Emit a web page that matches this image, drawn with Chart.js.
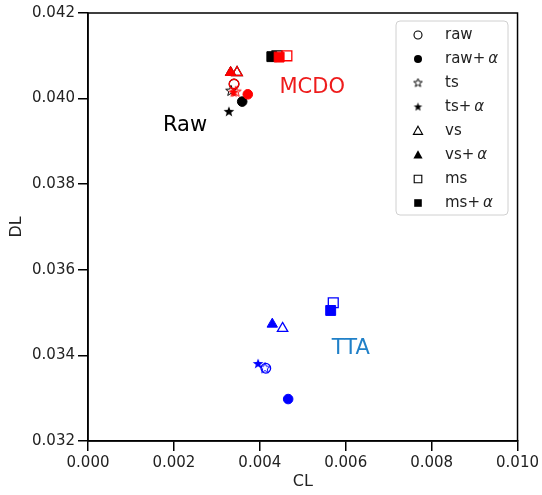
<!DOCTYPE html>
<html>
<head>
<meta charset="utf-8">
<script src="https://cdn.jsdelivr.net/npm/chart.js@4.4.1/dist/chart.umd.min.js"></script>
<style>
  html, body { margin: 0; padding: 0; background: #fff; }
  #wrap { width: 542px; height: 495px; }
</style>
</head>
<body>
<div id="wrap"><canvas id="chart" width="542" height="495"></canvas></div>
<script>
// marker kinds (one per legend row)
const markerNames = ['raw', 'raw+α', 'ts', 'ts+α', 'vs', 'vs+α', 'ms', 'ms+α'];

// method groups
const methodNames = ['Raw', 'MCDO', 'TTA'];

// CL / DL per marker kind
const rawCL  = [0.00340, 0.00359, 0.00333, 0.00328, 0.00347, 0.00332, 0.00440, 0.00428];
const rawDL  = [0.04034, 0.03993, 0.04018, 0.03969, 0.04061, 0.04061, 0.04100, 0.04098];
const mcdoCL = [0.00340, 0.00372, 0.00344, 0.00339, 0.00347, 0.00332, 0.00463, 0.00445];
const mcdoDL = [0.04034, 0.04010, 0.04016, 0.04014, 0.04061, 0.04061, 0.04100, 0.04097];
const ttaCL  = [0.00414, 0.00466, 0.00412, 0.00396, 0.00453, 0.00429, 0.00571, 0.00565];
const ttaDL  = [0.03370, 0.03298, 0.03370, 0.03380, 0.03463, 0.03473, 0.03523, 0.03505];

// where the group names sit (data units)
const labelCL = [0.00226, 0.00522, 0.00612];
const labelDL = [0.03937, 0.04025, 0.03417];

// axis ticks
const xTicks = [0.000, 0.002, 0.004, 0.006, 0.008, 0.010];
const yTicks = [0.032, 0.034, 0.036, 0.038, 0.040, 0.042];

const methodColors = ['#000000', '#ff0000', '#0000ff'];
const labelColors = ['#000000', '#ee1c1c', '#2080c8'];
const shapes = ['circle', 'circle', 'star', 'star', 'triangle', 'triangle', 'rect', 'rect'];
const filled = [false, true, false, true, false, true, false, true];
const radii = { circle: 4.8, triangle: 6, rect: 7 };

// 5-point star as a small canvas, chart.js 'star' is an asterisk
function makeStar(color, fill, outer) {
    const size = Math.ceil(outer * 2 + 4);
    const c = document.createElement('canvas');
    c.width = size; c.height = size;
    const g = c.getContext('2d');
    const cx = size / 2, cy = size / 2, inner = outer * 0.42;
    g.beginPath();
    for (let k = 0; k < 10; k++) {
        const r = k % 2 === 0 ? outer : inner;
        const a = -Math.PI / 2 + k * Math.PI / 5;
        const px = cx + r * Math.cos(a), py = cy + r * Math.sin(a);
        k === 0 ? g.moveTo(px, py) : g.lineTo(px, py);
    }
    g.closePath();
    if (fill) {
        g.fillStyle = color; g.fill();
    } else {
        g.strokeStyle = color; g.lineWidth = 1; g.stroke();
    }
    return c;
}

const allCL = [rawCL, mcdoCL, ttaCL];
const allDL = [rawDL, mcdoDL, ttaDL];

const datasets = [];
methodNames.forEach((m, mi) => {
    markerNames.forEach((name, ti) => {
        const color = methodColors[mi];
        const shape = shapes[ti];
        const ds = {
            label: m + ' ' + name,
            data: [{ x: allCL[mi][ti], y: allDL[mi][ti] }],
            borderColor: color,
            backgroundColor: filled[ti] ? color : 'rgba(0,0,0,0)',
            borderWidth: filled[ti] ? 1 : 1.3,
        };
        if (shape === 'star') {
            ds.pointStyle = makeStar(color, filled[ti], 5.6);
            ds.pointRadius = 5.6;
        } else {
            ds.pointStyle = shape;
            ds.pointRadius = radii[shape];
        }
        datasets.push(ds);
    });
});
// later series on top, like the original
datasets.forEach((d, i) => { d.order = datasets.length - i; });

const decorations = {
    id: 'decorations',
    afterDraw(chart) {
        const { ctx, chartArea: a, scales: { x, y } } = chart;
        ctx.save();

        // frame
        ctx.strokeStyle = '#000';
        ctx.lineWidth = 1.5;
        ctx.strokeRect(a.left, a.top, a.right - a.left, a.bottom - a.top);

        // group names
        ctx.font = '21px "DejaVu Sans"';
        ctx.textAlign = 'center';
        ctx.textBaseline = 'middle';
        methodNames.forEach((name, i) => {
            ctx.fillStyle = labelColors[i];
            ctx.fillText(name, x.getPixelForValue(labelCL[i]), y.getPixelForValue(labelDL[i]));
        });

        // axis titles
        ctx.fillStyle = '#222';
        ctx.font = '16px "DejaVu Sans"';
        ctx.fillText('CL', (a.left + a.right) / 2, 482);
        ctx.save();
        ctx.translate(17, (a.top + a.bottom) / 2);
        ctx.rotate(-Math.PI / 2);
        ctx.fillText('DL', 0, 0);
        ctx.restore();

        // legend box
        const bx = 396, by = 21, bw = 112, bh = 194, br = 4;
        ctx.beginPath();
        ctx.moveTo(bx + br, by);
        ctx.arcTo(bx + bw, by, bx + bw, by + bh, br);
        ctx.arcTo(bx + bw, by + bh, bx, by + bh, br);
        ctx.arcTo(bx, by + bh, bx, by, br);
        ctx.arcTo(bx, by, bx + bw, by, br);
        ctx.closePath();
        ctx.fillStyle = 'rgba(255,255,255,0.85)';
        ctx.fill();
        ctx.strokeStyle = '#d0d0d0';
        ctx.lineWidth = 1;
        ctx.stroke();

        markerNames.forEach((name, i) => {
            const my = 35 + i * 24;
            const mx = 418;
            ctx.fillStyle = '#000';
            ctx.strokeStyle = '#000';
            ctx.lineWidth = 1.1;
            const shape = shapes[i];
            ctx.beginPath();
            if (shape === 'circle') {
                ctx.arc(mx, my, 4, 0, Math.PI * 2);
            } else if (shape === 'rect') {
                ctx.rect(mx - 3.8, my - 3.8, 7.6, 7.6);
            } else if (shape === 'triangle') {
                ctx.moveTo(mx, my - 4.8);
                ctx.lineTo(mx + 4.6, my + 3.4);
                ctx.lineTo(mx - 4.6, my + 3.4);
                ctx.closePath();
            }
            if (shape === 'star') {
                const s = makeStar('#000', filled[i], 4.5);
                ctx.drawImage(s, mx - s.width / 2, my - s.height / 2);
            } else if (filled[i]) {
                ctx.fill();
            } else {
                ctx.stroke();
            }

            ctx.fillStyle = '#222';
            ctx.textAlign = 'left';
            ctx.textBaseline = 'middle';
            ctx.font = '15px "DejaVu Sans"';
            if (name.endsWith('α')) {
                const base = name.slice(0, -1);
                ctx.fillText(base, 445, my);
                const w = ctx.measureText(base).width;
                ctx.font = 'italic 15px "DejaVu Sans"';
                ctx.fillText('α', 445 + w + 3, my);
            } else {
                ctx.fillText(name, 445, my);
            }
        });

        ctx.restore();
    }
};

const axisStyle = (min, max, ticks, fitter) => ({
    type: 'linear',
    min: min,
    max: max,
    afterBuildTicks: (scale) => { scale.ticks = ticks.map(v => ({ value: v })); },
    afterFit: fitter,
    border: { display: true, color: '#000', width: 1.5 },
    grid: { drawOnChartArea: false, drawTicks: true, tickLength: 10, color: '#000', lineWidth: 1.5 },
    ticks: {
        color: '#222',
        font: { family: 'DejaVu Sans', size: 15 },
        padding: 3,
        callback: (v) => Number(v).toFixed(3)
    }
});

new Chart(document.getElementById('chart'), {
    type: 'scatter',
    data: { datasets: datasets },
    options: {
        responsive: false,
        animation: false,
        events: [],
        layout: { padding: { left: 0, top: 13, right: 24, bottom: 0 } },
        plugins: {
            legend: { display: false },
            tooltip: { enabled: false }
        },
        scales: {
            x: axisStyle(0, 0.01, xTicks, (s) => { s.height = 54; }),
            y: axisStyle(0.032, 0.042, yTicks, (s) => { s.width = 88; })
        }
    },
    plugins: [decorations]
});
</script>
</body>
</html>
